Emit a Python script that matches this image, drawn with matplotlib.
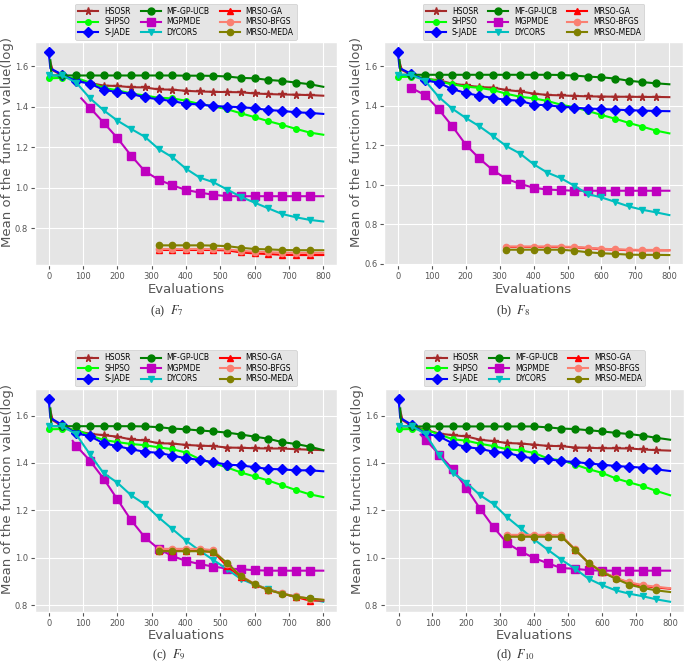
import matplotlib
matplotlib.use("Agg")
import matplotlib.pyplot as plt

plt.style.use("ggplot")
plt.rcParams["mathtext.fontset"] = "stix"

# evaluation grid (markers every 40 evaluations, curves end at 800)
EVALS = list(range(0, 801, 40))
EVALS_SJADE = [0, 5] + EVALS[1:]
EVALS_HSOSR = [5, 12] + EVALS[1:]
EVALS_MFGP = [5, 8] + EVALS[1:]
EVALS_MRSO = EVALS[8:]

NAMES = ["HSOSR", "SHPSO", "S-JADE", "MF-GP-UCB", "MGPMDE", "DYCORS",
         "MRSO-GA", "MRSO-BFGS", "MRSO-MEDA"]
COLORS = ["brown", "lime", "blue", "green", "m", "c", "red", "salmon", "olive"]
MARKERS = ["*", "o", "D", "o", "s", "v", "^", "o", "o"]
MSIZES = [5.5, 4, 5.5, 5, 5.5, 5, 5, 4.5, 4.5]

# ---- F7 ----
F7_HSOSR = [1.62, 1.58, 1.555, 1.53, 1.518, 1.505, 1.503, 1.497, 1.496, 1.486, 1.485,
            1.479, 1.476, 1.474, 1.473, 1.472, 1.466, 1.463, 1.461, 1.46, 1.458, 1.455]
F7_SHPSO = [1.541, 1.543, 1.543, 1.52, 1.494, 1.482, 1.466, 1.456, 1.445, 1.442, 1.43,
            1.414, 1.402, 1.388, 1.368, 1.349, 1.329, 1.311, 1.291, 1.273, 1.262]
F7_SJADE = [1.67, 1.59, 1.559, 1.527, 1.515, 1.484, 1.473, 1.464, 1.447, 1.437, 1.429,
            1.415, 1.412, 1.404, 1.401, 1.398, 1.393, 1.384, 1.38, 1.373, 1.37, 1.365]
F7_MFGP = [1.63, 1.555, 1.555, 1.555, 1.555, 1.555, 1.555, 1.555, 1.555, 1.555, 1.555,
           1.554, 1.554, 1.553, 1.55, 1.543, 1.541, 1.533, 1.528, 1.52, 1.512, 1.499]
F7_MGPMDE_X = [95] + EVALS[3:]
F7_MGPMDE = [1.442, 1.396, 1.322, 1.246, 1.159, 1.082, 1.04, 1.012, 0.989, 0.976, 0.965,
             0.958, 0.958, 0.958, 0.958, 0.958, 0.958, 0.958, 0.958]
F7_DYCORS = [1.556, 1.555, 1.52, 1.443, 1.383, 1.332, 1.291, 1.252, 1.192, 1.151, 1.094,
             1.05, 1.027, 0.991, 0.955, 0.926, 0.898, 0.87, 0.854, 0.841, 0.833]
F7_GA = [0.692, 0.692, 0.692, 0.692, 0.692, 0.69, 0.68, 0.675, 0.672, 0.668, 0.667, 0.667, 0.667]
F7_BFGS = [0.697, 0.697, 0.697, 0.697, 0.697, 0.695, 0.688, 0.684, 0.681, 0.679, 0.678, 0.678, 0.678]
F7_MEDA = [0.715, 0.715, 0.715, 0.715, 0.714, 0.711, 0.703, 0.697, 0.695, 0.692, 0.691, 0.691, 0.691]

# ---- F8 ----
F8_HSOSR = [1.62, 1.58, 1.555, 1.535, 1.529, 1.511, 1.503, 1.494, 1.491, 1.479, 1.472,
            1.461, 1.454, 1.452, 1.449, 1.447, 1.446, 1.445, 1.445, 1.444, 1.444, 1.443]
F8_SHPSO = [1.545, 1.546, 1.54, 1.523, 1.508, 1.496, 1.49, 1.479, 1.46, 1.445, 1.437,
            1.424, 1.405, 1.392, 1.373, 1.353, 1.334, 1.313, 1.294, 1.274, 1.26]
F8_SJADE = [1.67, 1.59, 1.56, 1.528, 1.516, 1.484, 1.464, 1.45, 1.439, 1.429, 1.425,
            1.405, 1.402, 1.395, 1.39, 1.385, 1.383, 1.38, 1.377, 1.375, 1.373, 1.372]
F8_MFGP = [1.63, 1.556, 1.556, 1.556, 1.556, 1.556, 1.556, 1.556, 1.556, 1.556, 1.556,
           1.556, 1.556, 1.555, 1.552, 1.547, 1.543, 1.537, 1.526, 1.519, 1.513, 1.508]
F8_MGPMDE_X = EVALS[1:]
F8_MGPMDE = [1.489, 1.454, 1.382, 1.297, 1.203, 1.133, 1.074, 1.03, 1.005, 0.985, 0.976,
             0.973, 0.97, 0.97, 0.97, 0.97, 0.97, 0.97, 0.97, 0.97]
F8_DYCORS = [1.556, 1.555, 1.526, 1.445, 1.385, 1.338, 1.296, 1.247, 1.195, 1.158, 1.104,
             1.062, 1.034, 0.995, 0.953, 0.936, 0.914, 0.891, 0.874, 0.861, 0.847]
F8_GA = [0.686, 0.686, 0.686, 0.686, 0.686, 0.684, 0.68, 0.675, 0.672, 0.67, 0.669, 0.669, 0.669]
F8_BFGS = [0.688, 0.688, 0.688, 0.688, 0.688, 0.686, 0.682, 0.677, 0.674, 0.672, 0.671, 0.671, 0.67]
F8_MEDA = [0.672, 0.672, 0.672, 0.672, 0.672, 0.667, 0.659, 0.654, 0.651, 0.647, 0.646, 0.646, 0.645]

# ---- F9 ----
F9_HSOSR = [1.62, 1.58, 1.555, 1.535, 1.523, 1.517, 1.511, 1.499, 1.495, 1.483, 1.482,
            1.476, 1.473, 1.471, 1.465, 1.464, 1.462, 1.461, 1.461, 1.458, 1.456, 1.454]
F9_SHPSO = [1.542, 1.543, 1.54, 1.517, 1.497, 1.488, 1.48, 1.475, 1.466, 1.458, 1.444,
            1.416, 1.399, 1.381, 1.36, 1.343, 1.326, 1.306, 1.286, 1.268, 1.256]
F9_SJADE = [1.67, 1.59, 1.56, 1.525, 1.513, 1.483, 1.471, 1.458, 1.447, 1.443, 1.431,
            1.42, 1.413, 1.403, 1.393, 1.39, 1.382, 1.375, 1.373, 1.369, 1.369, 1.365]
F9_MFGP = [1.63, 1.555, 1.555, 1.555, 1.555, 1.555, 1.555, 1.555, 1.554, 1.551, 1.545,
           1.542, 1.537, 1.533, 1.528, 1.52, 1.511, 1.502, 1.488, 1.48, 1.469, 1.454]
F9_MGPMDE_X = [70] + EVALS[2:]
F9_MGPMDE = [1.493, 1.473, 1.41, 1.334, 1.247, 1.159, 1.087, 1.038, 1.008, 0.987, 0.974,
             0.963, 0.955, 0.952, 0.948, 0.946, 0.946, 0.946, 0.946, 0.946]
F9_DYCORS = [1.556, 1.555, 1.521, 1.437, 1.357, 1.317, 1.264, 1.226, 1.171, 1.122, 1.073,
             1.03, 0.991, 0.952, 0.911, 0.887, 0.869, 0.849, 0.837, 0.827, 0.815]
F9_GA = [1.03, 1.03, 1.03, 1.03, 1.025, 0.965, 0.92, 0.888, 0.865, 0.85, 0.835, 0.82, 0.82]
F9_BFGS = [1.038, 1.038, 1.038, 1.038, 1.032, 0.975, 0.925, 0.89, 0.866, 0.85, 0.838, 0.828, 0.823]
F9_MEDA = [1.028, 1.028, 1.028, 1.028, 1.025, 0.978, 0.922, 0.889, 0.864, 0.849, 0.836, 0.829, 0.823]

# ---- F10 ----
F10_HSOSR = [1.62, 1.58, 1.555, 1.54, 1.524, 1.517, 1.512, 1.498, 1.492, 1.484, 1.482,
             1.477, 1.472, 1.471, 1.465, 1.464, 1.462, 1.462, 1.461, 1.457, 1.454, 1.452]
F10_SHPSO = [1.542, 1.543, 1.54, 1.52, 1.5, 1.494, 1.481, 1.471, 1.458, 1.453, 1.442,
             1.419, 1.411, 1.393, 1.374, 1.358, 1.335, 1.318, 1.302, 1.282, 1.264]
F10_SJADE = [1.67, 1.59, 1.56, 1.523, 1.512, 1.482, 1.467, 1.46, 1.447, 1.443, 1.428,
             1.419, 1.416, 1.408, 1.404, 1.398, 1.393, 1.387, 1.384, 1.38, 1.373, 1.366]
F10_MFGP = [1.63, 1.554, 1.554, 1.554, 1.554, 1.554, 1.554, 1.554, 1.554, 1.554, 1.554,
            1.554, 1.55, 1.545, 1.543, 1.538, 1.533, 1.527, 1.522, 1.515, 1.506, 1.498]
F10_MGPMDE_X = [65] + EVALS[2:]
F10_MGPMDE = [1.519, 1.498, 1.435, 1.374, 1.293, 1.208, 1.129, 1.062, 1.027, 0.999, 0.977,
              0.957, 0.954, 0.948, 0.946, 0.946, 0.946, 0.946, 0.946, 0.946]
F10_DYCORS = [1.556, 1.555, 1.521, 1.432, 1.358, 1.317, 1.264, 1.227, 1.171, 1.124, 1.077,
              1.034, 0.992, 0.954, 0.912, 0.885, 0.863, 0.849, 0.838, 0.825, 0.815]
F10_GA = [1.092, 1.092, 1.092, 1.092, 1.092, 1.035, 0.979, 0.94, 0.916, 0.893, 0.882, 0.875, 0.87]
F10_BFGS = [1.097, 1.097, 1.097, 1.097, 1.095, 1.036, 0.979, 0.941, 0.915, 0.897, 0.885, 0.878, 0.872]
F10_MEDA = [1.089, 1.089, 1.089, 1.089, 1.089, 1.035, 0.978, 0.94, 0.912, 0.887, 0.873, 0.863, 0.856]


def panel(hsosr, shpso, sjade, mfgp, mgp_x, mgp, dycors, ga, bfgs, meda):
    """Pair every series with its evaluation counts, in legend order"""
    return [(EVALS_HSOSR, hsosr), (EVALS, shpso), (EVALS_SJADE, sjade),
            (EVALS_MFGP, mfgp), (mgp_x, mgp), (EVALS, dycors),
            (EVALS_MRSO, ga), (EVALS_MRSO, bfgs), (EVALS_MRSO, meda)]


PANELS = [
    ("(a)  $F_7$", panel(F7_HSOSR, F7_SHPSO, F7_SJADE, F7_MFGP, F7_MGPMDE_X, F7_MGPMDE,
                         F7_DYCORS, F7_GA, F7_BFGS, F7_MEDA)),
    ("(b)  $F_8$", panel(F8_HSOSR, F8_SHPSO, F8_SJADE, F8_MFGP, F8_MGPMDE_X, F8_MGPMDE,
                         F8_DYCORS, F8_GA, F8_BFGS, F8_MEDA)),
    ("(c)  $F_9$", panel(F9_HSOSR, F9_SHPSO, F9_SJADE, F9_MFGP, F9_MGPMDE_X, F9_MGPMDE,
                         F9_DYCORS, F9_GA, F9_BFGS, F9_MEDA)),
    ("(d)  $F_{10}$", panel(F10_HSOSR, F10_SHPSO, F10_SJADE, F10_MFGP, F10_MGPMDE_X, F10_MGPMDE,
                            F10_DYCORS, F10_GA, F10_BFGS, F10_MEDA)),
]

# axes rectangles (left, bottom, width, height) and caption anchors
RECTS = [(0.051, 0.603, 0.441, 0.334), (0.561, 0.603, 0.436, 0.334),
         (0.051, 0.084, 0.441, 0.334), (0.562, 0.084, 0.436, 0.334)]
CAPTIONS = [(0.243, 0.522), (0.749, 0.522), (0.246, 0.008), (0.753, 0.008)]

fig = plt.figure(figsize=(6.85, 6.68), dpi=100)

for (caption, series), rect, cap_pos in zip(PANELS, RECTS, CAPTIONS):
    ax = fig.add_axes(rect)
    for (xs, ys), name, color, marker, ms in zip(series, NAMES, COLORS, MARKERS, MSIZES):
        marks = [i for i, x in enumerate(xs) if x % 40 == 0 and x < 800]
        ax.plot(xs, ys, color=color, marker=marker, markersize=ms, lw=1.5,
                markevery=marks, label=name)
    ax.set_xticks(range(0, 801, 100))
    ax.tick_params(labelsize=6, length=3, pad=2)
    ax.set_xlabel("Evaluations", fontsize=9.5, labelpad=1)
    ax.set_ylabel("Mean of the function value(log)", fontsize=9.5)
    ax.yaxis.set_label_coords(-0.07, 0.55)
    ax.legend(loc="lower center", bbox_to_anchor=(0.5, 1.0), ncol=3, fontsize=5.5,
              handlelength=2.6, columnspacing=1.3, labelspacing=0.2,
              borderaxespad=0.3, framealpha=1.0)
    fig.text(cap_pos[0], cap_pos[1], caption, ha="center", va="bottom",
             fontsize=9, family="Liberation Serif", color="#333333")

fig.savefig("out.png", dpi=100)
